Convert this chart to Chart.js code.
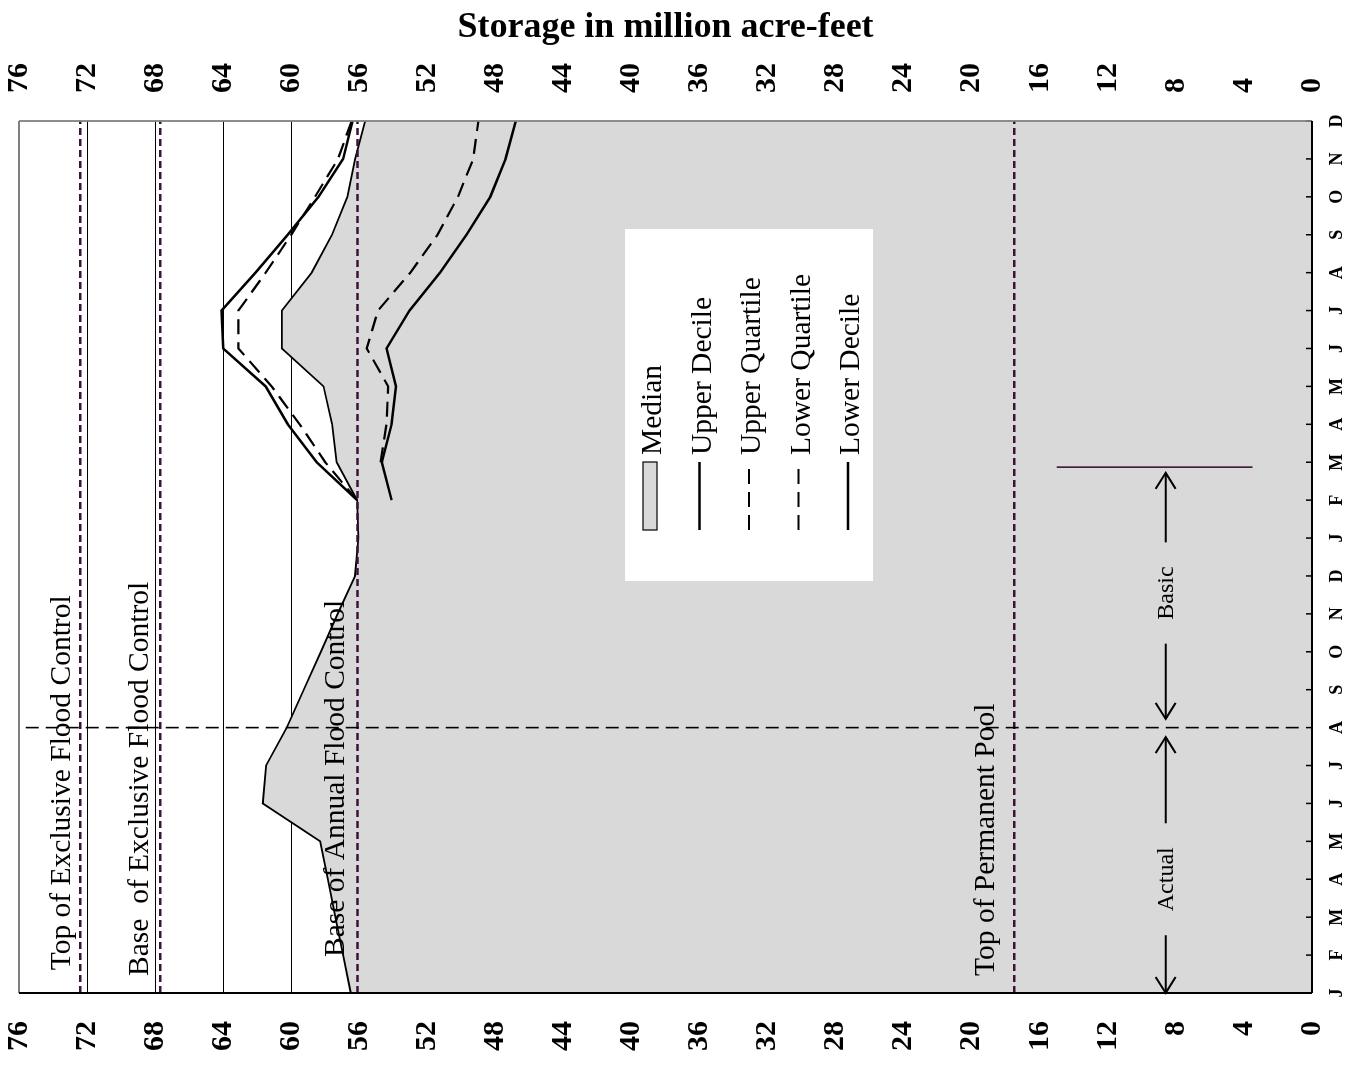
<!DOCTYPE html>
<html>
<head>
<meta charset="utf-8">
<title>Storage in million acre-feet</title>
<script src="https://cdn.jsdelivr.net/npm/chart.js@4.4.1/dist/chart.umd.min.js"></script>
<style>
  html, body { margin: 0; padding: 0; background: #fff; overflow: hidden; }
  #wrap { position: relative; width: 1367px; height: 1067px; overflow: hidden; }
  /* chart is drawn landscape, then turned a quarter turn to the left */
  #c { position: absolute; left: 0; top: 0; transform-origin: 0 0;
       transform: translate(0, 1067px) rotate(-90deg); }
</style>
</head>
<body>
<div id="wrap"><canvas id="c" width="1067" height="1367"></canvas></div>
<script>
const months = ['J','F','M','A','M','J','J','A','S','O','N','D',
                'J','F','M','A','M','J','J','A','S','O','N','D'];
const storageTicks = [0,4,8,12,16,20,24,28,32,36,40,44,48,52,56,60,64,68,72,76];

const median       = [56.5, 56.95, 57.4, 57.85, 58.3, 61.67, 61.48, 60.26, 59.26, 58.26, 57.27, 56.25,
                      56.05, 56.13, 57.33, 57.6, 58.1, 60.55, 60.55, 58.8, 57.6, 56.7, 56.25, 55.65];
const upperDecile  = [null, null, null, null, null, null, null, null, null, null, null, null,
                      null, 56.13, 58.5, 60.2, 61.5, 64.0, 64.1, 62.1, 60.2, 58.4, 56.95, 56.4];
const upperQuartile= [null, null, null, null, null, null, null, null, null, null, null, null,
                      null, 56.13, 58.0, 59.5, 61.15, 63.1, 63.1, 61.5, 60.0, 58.6, 57.25, 56.45];
const lowerQuartile= [null, null, null, null, null, null, null, null, null, null, null, null,
                      null, null, 54.75, 54.4, 54.3, 55.56, 54.9, 53.0, 51.4, 50.2, 49.3, 49.0];
const lowerDecile  = [null, null, null, null, null, null, null, null, null, null, null, null,
                      null, 54.1, 54.68, 54.1, 53.84, 54.4, 53.05, 51.25, 49.7, 48.3, 47.4, 46.8];

const refValues = [72.4, 67.7, 56.1, 17.5];
const refLabels = ['Top of Exclusive Flood Control', 'Base  of Exclusive Flood Control',
                   'Base of Annual Flood Control', 'Top of Permanent Pool'];
const refLabelStart = [0.6, 0.45, 0.95, 0.45];
const gridValues = [72, 68, 64, 60];

const dividerMonth = 7;
const currentMonth = 13.87;
const currentRange = [15, 3.5];
const periodNames = ['Actual', 'Basic'];
const periodFrom  = [0, 7.23];
const periodTo    = [6.75, 13.72];
const periodMid   = [3.0, 10.55];
const arrowLevel  = 8.6;

const legendNames = ['Median', 'Upper Decile', 'Upper Quartile', 'Lower Quartile', 'Lower Decile'];

const serif = "'Liberation Serif', 'Times New Roman', serif";
const purple = '#3a1339';

function pts(arr) {
  return arr.map((v, i) => v === null ? null : { x: i, y: v }).filter(p => p);
}

const datasets = [
  { label: 'Median', data: pts(median), borderColor: '#000', borderWidth: 1.8,
    backgroundColor: '#d9d9d9', fill: 'start', order: 10 },
  { label: 'Upper Decile', data: pts(upperDecile), borderColor: '#000', borderWidth: 2.5, order: 2 },
  { label: 'Upper Quartile', data: pts(upperQuartile), borderColor: '#000', borderWidth: 2.2,
    borderDash: [15, 8], order: 2 },
  { label: 'Lower Quartile', data: pts(lowerQuartile), borderColor: '#000', borderWidth: 2.2,
    borderDash: [15, 8], order: 2 },
  { label: 'Lower Decile', data: pts(lowerDecile), borderColor: '#000', borderWidth: 2.5, order: 2 },
  { label: 'divider', data: [{ x: dividerMonth, y: 75.6 }, { x: dividerMonth, y: 0.6 }],
    borderColor: '#000', borderWidth: 1.6, borderDash: [13, 7], order: 3 },
  { label: 'current', data: [{ x: currentMonth, y: currentRange[0] }, { x: currentMonth, y: currentRange[1] }],
    borderColor: purple, borderWidth: 1.6, order: 3 }
];
refValues.forEach((v, i) => {
  datasets.push({ label: refLabels[i], data: [{ x: 0, y: v }, { x: 23, y: v }],
    borderColor: purple, borderWidth: 2.5, borderDash: [7, 4], order: 5 });
});

function line(ctx, x1, y1, x2, y2) {
  ctx.beginPath(); ctx.moveTo(x1, y1); ctx.lineTo(x2, y2); ctx.stroke();
}

const overlay = {
  id: 'overlay',
  afterDatasetsDraw(chart) {
    const { ctx, chartArea: a, scales: { x, y } } = chart;
    ctx.save();

    // labels of the reference levels
    const gaps = [10, 12, 14, 20];
    ctx.fillStyle = '#000';
    ctx.font = '29.5px ' + serif;
    ctx.textAlign = 'left';
    ctx.textBaseline = 'alphabetic';
    refLabels.forEach((t, i) => {
      ctx.fillText(t, x.getPixelForValue(refLabelStart[i]), y.getPixelForValue(refValues[i]) - gaps[i]);
    });

    // Actual / Basic arrows
    const av = y.getPixelForValue(arrowLevel);
    ctx.font = '24px ' + serif;
    ctx.textAlign = 'center';
    ctx.textBaseline = 'middle';
    ctx.strokeStyle = '#000';
    ctx.lineWidth = 2;
    periodNames.forEach((name, i) => {
      const u0 = x.getPixelForValue(periodFrom[i]);
      const u1 = x.getPixelForValue(periodTo[i]);
      const um = x.getPixelForValue(periodMid[i]);
      const half = ctx.measureText(name).width / 2 + 24;
      line(ctx, u0, av, um - half, av);
      line(ctx, um + half, av, u1, av);
      ctx.beginPath();
      ctx.moveTo(u0 + 16, av - 10); ctx.lineTo(u0, av); ctx.lineTo(u0 + 16, av + 10);
      ctx.moveTo(u1 - 16, av - 10); ctx.lineTo(u1, av); ctx.lineTo(u1 - 16, av + 10);
      ctx.stroke();
      ctx.fillText(name, um, av + 1);
    });

    // legend box
    const lx = a.left + 412, ly = a.top + 606;
    ctx.fillStyle = '#fff';
    ctx.fillRect(lx, ly, 352, 248);
    legendNames.forEach((name, k) => {
      const ds = chart.data.datasets.find(d => d.label === name);
      const cv = ly + 25 + k * 49.5;
      if (ds.fill) {
        ctx.fillStyle = ds.backgroundColor;
        ctx.fillRect(lx + 51, cv - 7, 68, 14);
        ctx.strokeStyle = '#000'; ctx.lineWidth = 1.2;
        ctx.strokeRect(lx + 51, cv - 7, 68, 14);
      } else {
        ctx.strokeStyle = '#000';
        ctx.lineWidth = ds.borderWidth;
        ctx.setLineDash(ds.borderDash || []);
        line(ctx, lx + 51, cv, lx + 119, cv);
        ctx.setLineDash([]);
      }
      ctx.fillStyle = '#000';
      ctx.font = '29.5px ' + serif;
      ctx.textAlign = 'left';
      ctx.textBaseline = 'alphabetic';
      ctx.fillText(name, lx + 126, cv + 11);
    });

    // month ticks pointing inward
    ctx.strokeStyle = '#000';
    ctx.lineWidth = 1.5;
    months.forEach((m, i) => {
      const u = x.getPixelForValue(i);
      line(ctx, u, a.bottom, u, a.bottom - 6);
    });

    // frame
    ctx.strokeStyle = '#808080';
    ctx.lineWidth = 1.8;
    line(ctx, a.left, a.top, a.right, a.top);
    line(ctx, a.right, a.top, a.right, a.bottom);
    ctx.strokeStyle = '#000';
    ctx.lineWidth = 2;
    line(ctx, a.left, a.bottom, a.right, a.bottom);
    line(ctx, a.left, a.top, a.left, a.bottom);
    ctx.restore();
  }
};

const storageAxis = (pos, width) => ({
  type: 'linear', position: pos, min: 0, max: 76,
  afterBuildTicks: s => { s.ticks = storageTicks.map(v => ({ value: v })); },
  afterFit: s => { s.width = width; s.paddingTop = 0; s.paddingBottom = 0; },
  border: { display: false },
  ticks: { padding: 28, color: '#000', font: { family: serif, size: 30, weight: 'bold' } }
});

const yLeft = storageAxis('left', 74);
yLeft.grid = { drawTicks: false, lineWidth: 1,
  color: c => (c.tick && gridValues.includes(c.tick.value)) ? '#000' : 'rgba(0,0,0,0)' };
const yRight = storageAxis('right', 121);
yRight.grid = { display: false, drawTicks: false, drawOnChartArea: false };
yRight.title = { display: true, text: 'Storage in million acre-feet', color: '#000',
  padding: { top: 6, bottom: 0 }, font: { family: serif, size: 36, weight: 'bold' } };

new Chart(document.getElementById('c'), {
  type: 'line',
  data: { datasets: datasets },
  options: {
    responsive: false,
    devicePixelRatio: 1,
    animation: false,
    layout: { padding: { top: 19, left: 0, right: 0, bottom: 0 } },
    elements: { point: { radius: 0 }, line: { tension: 0 } },
    plugins: { legend: { display: false }, tooltip: { enabled: false } },
    scales: {
      x: {
        type: 'linear', position: 'bottom', min: 0, max: 23,
        afterBuildTicks: s => { s.ticks = months.map((m, i) => ({ value: i })); },
        afterFit: s => { s.height = 55; s.paddingLeft = 0; s.paddingRight = 0; },
        grid: { display: false, drawTicks: false },
        border: { display: false },
        ticks: { autoSkip: false, maxRotation: 0, padding: 15, color: '#000',
                 font: { family: serif, size: 18, weight: 'bold' },
                 callback: v => months[v] }
      },
      y: yLeft,
      y2: yRight
    }
  },
  plugins: [overlay]
});
</script>
</body>
</html>
